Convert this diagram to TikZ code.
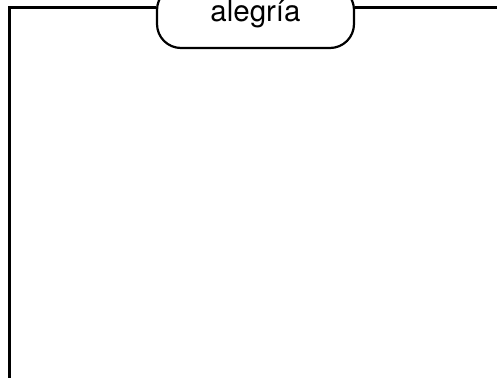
\documentclass[tikz,border=0pt]{standalone}
\usepackage{fontspec}
\setmainfont{TeX Gyre Heros}
\begin{document}
\begin{tikzpicture}[x=1pt,y=1pt,
  wire/.style={line width=2.2pt, line cap=butt, line join=miter},
  boxstyle/.style={draw, line width=2.2pt, rounded corners=24pt, minimum width=197pt, minimum height=62pt, inner sep=0pt},
  lbl/.style={font=\fontsize{29.5}{32}\selectfont, inner sep=0pt, anchor=base}]
\useasboundingbox (0,0) rectangle (497,378);
\clip (0,0) rectangle (497,378);
\node[boxstyle] (box) at (255.5,361) {};
\node[lbl] (txt) at (255.5,356) {alegría};
\coordinate (tl) at (9.5,370.5);
\coordinate (bl) at (9.5,0);
\coordinate (tr) at (497,370.5);
\draw[wire] (tl -| box.west) -- (tl) -- (bl);
\draw[wire] (tr -| box.east) -- (tr);
\end{tikzpicture}
\end{document}
